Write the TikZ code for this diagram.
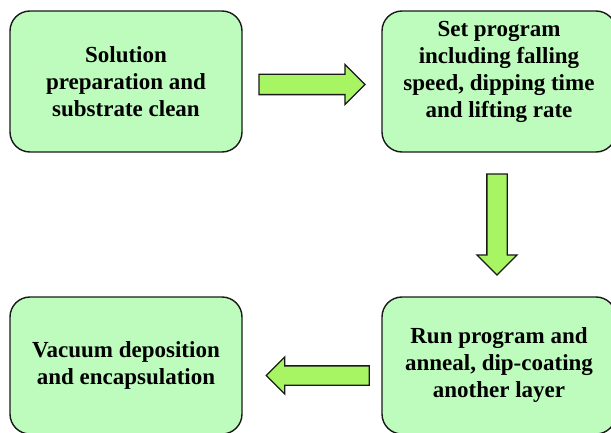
\documentclass[tikz,border=0pt]{standalone}
\usepackage{fontspec}
\setmainfont{Liberation Serif}
\usetikzlibrary{shapes.arrows,calc}

\definecolor{box area}{RGB}{190,252,190}
\definecolor{arrow area}{RGB}{168,245,100}
\colorlet{box edge}{black!90}
\tikzset{
  stepbox/.style={draw=box edge, fill=box area, line width=1.4pt,
    rounded corners=20pt, align=center, inner sep=0pt,
    font=\fontsize{23}{27}\selectfont\bfseries},
  flow arrow/.style={single arrow, draw=box edge, fill=arrow area,
    line width=1.3pt, inner sep=9.5pt,
    single arrow head extend=10pt}
  }

\begin{document}
\begin{tikzpicture}[x=1pt,y=-1pt]
    % Definition of the page, the right and lower boxes run off it
    \useasboundingbox (0,0) rectangle (611,433);
    \clip (0,0) rectangle (611,433);

    \node[stepbox, minimum width=232pt, minimum height=141pt] (sol) at (126,81.5)
      {Solution\\preparation and\\substrate clean};
    \node[stepbox, minimum width=234pt, minimum height=141pt, text depth=24pt] (prog) at (499,81.5)
      {Set program\\including falling\\speed, dipping time\\and lifting rate};
    \node[stepbox, minimum width=234pt, minimum height=137pt] (run) at (499,365.5)
      {Run program and\\anneal, dip-coating\\another layer};
    \node[stepbox, minimum width=232pt, minimum height=137pt] (vac) at (126,365.5)
      {Vacuum deposition\\and encapsulation};

    \node[flow arrow, minimum height=106pt] (ab) at ($(sol.east)!0.5!(prog.west)+(-5,3)$) {};
    \node[flow arrow, shape border rotate=270, minimum height=101pt] (bc) at ($(prog.south)!0.5!(run.north)+(-2,-5)$) {};
    \node[flow arrow, shape border rotate=180, minimum height=103pt, inner sep=9pt,
      single arrow head extend=9pt] (cd) at ($(run.west)!0.5!(vac.east)+(10.5,10)$) {};
\end{tikzpicture}
\end{document}
